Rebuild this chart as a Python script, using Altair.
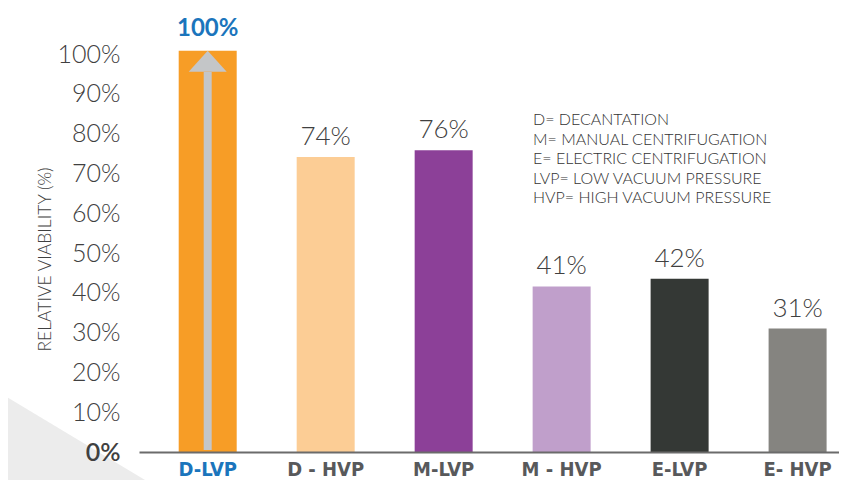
import altair as alt
import pandas as pd

categories = ["D-LVP", "D - HVP", "M-LVP", "M - HVP", "E-LVP", "E- HVP"]
viability = [100.8, 74.1, 75.8, 41.6, 43.5, 31.0]
value_labels = ["100%", "74%", "76%", "41%", "42%", "31%"]
bar_colors = ["#f79d26", "#fccd95", "#8c4098", "#c09fcb", "#343835", "#858480"]
y_ticks = [0, 10, 20, 30, 40, 50, 60, 70, 80, 90, 100]
legend_lines = [
    "D= DECANTATION",
    "M= MANUAL CENTRIFUGATION",
    "E= ELECTRIC CENTRIFUGATION",
    "LVP= LOW VACUUM PRESSURE",
    "HVP= HIGH VACUUM PRESSURE",
]
highlight = "D-LVP"

df = pd.DataFrame({"cat": categories, "v": viability, "lab": value_labels})

FONT = "Lato"
TXT = "#404040"

x_scale = alt.Scale(paddingInner=0.5084, paddingOuter=0.2208, align=0.762)
x_axis = alt.Axis(
    title=None,
    labelAngle=0,
    domainColor="#6b6b6b",
    domainWidth=2,
    ticks=False,
    grid=False,
    labelPadding=7,
    labelFont="DejaVu Sans Condensed, Roboto Condensed, Roboto, sans-serif",
    labelFontWeight="bold",
    labelFontSize=20,
    labelColor={"expr": "datum.value == 'D-LVP' ? '#1b75bc' : '#58595b'"},
    labelBaseline="top",
    labelOverlap=False,
    zindex=1,
)
y_scale = alt.Scale(domain=[0, 100], nice=False, zero=True)
y_axis = alt.Axis(
    values=y_ticks,
    labelExpr="datum.value + '%'",
    labelOverlap=False,
    labelBound=False,
    domain=False,
    ticks=False,
    grid=False,
    labelFont=FONT,
    labelFontWeight={"expr": "datum.value == 0 ? 600 : 300"},
    labelFontSize=25,
    labelColor=TXT,
    labelPadding=19,
    title="RELATIVE VIABILITY (%)",
    titleFont=FONT,
    titleFontWeight=300,
    titleFontSize=17.5,
    titleColor=TXT,
    titleX=-94,
    titleY=205,
    titleAngle=270,
    titleAlign="center",
    titleBaseline="middle",
    zindex=1,
)

x_enc = alt.X("cat:N", sort=categories, scale=x_scale, axis=x_axis)
y_enc = alt.Y("v:Q", scale=y_scale, axis=y_axis)

base = alt.Chart(df)

deco = base.transform_filter(f"datum.cat == '{highlight}'").mark_point(
    shape="M0,0L142,85.2L0,85.2Z", size=4, filled=True, color="#ececec",
    opacity=1, strokeWidth=0,
).encode(x=alt.value(-131), y=alt.value(343.8))

bars = base.mark_bar().encode(
    x=x_enc,
    y=y_enc,
    color=alt.Color("cat:N", scale=alt.Scale(domain=categories, range=bar_colors), legend=None),
)

arrow_shaft = base.transform_filter(f"datum.cat == '{highlight}'").transform_calculate(
    top="datum.v - 5.3", bottom="0.5"
).mark_rule(color="#c4c6c8", strokeWidth=8).encode(
    x=x_enc,
    y=alt.Y("bottom:Q", scale=y_scale, axis=y_axis),
    y2="top:Q",
)

arrow_head = base.transform_filter(f"datum.cat == '{highlight}'").mark_point(
    shape="M-19,21L0,0L19,21Z", size=4, filled=True, color="#c4c6c8",
    opacity=1, strokeWidth=0,
).encode(x=x_enc, y=y_enc)

labels = base.transform_filter(f"datum.cat != '{highlight}'").mark_text(
    font=FONT, fontWeight=300, fontSize=26, color=TXT, baseline="alphabetic", dy=-12
).encode(x=x_enc, y=y_enc, text="lab:N")

top_label = base.transform_filter(f"datum.cat == '{highlight}'").mark_text(
    font=FONT, fontWeight="bold", fontSize=24, color="#1b75bc", baseline="alphabetic", dy=-15
).encode(x=x_enc, y=y_enc, text="lab:N")

legend = alt.Chart(pd.DataFrame({"t": ["\n".join(legend_lines)]})).mark_text(
    font=FONT, fontWeight=300, fontSize=16, color="#333333", align="left",
    baseline="alphabetic", lineBreak="\n", lineHeight=19.6,
).encode(x=alt.value(394), y=alt.value(71), text="t:N")

chart = alt.layer(bars, deco, arrow_shaft, arrow_head, labels, top_label, legend).properties(
    width=700,
    height=398,
    autosize=alt.AutoSizeParams(type="none"),
    padding={"left": 131, "top": 46, "right": 0, "bottom": 28},
).configure_view(stroke=None)

chart.save("out.html", embed_options={"renderer": "svg", "actions": False})
